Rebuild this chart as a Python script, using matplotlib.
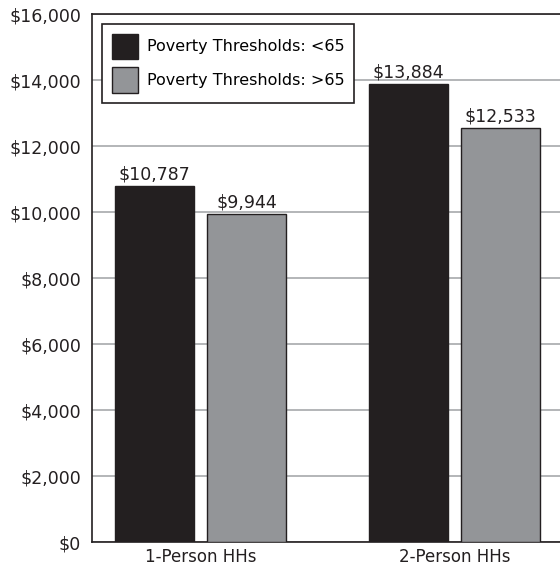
import matplotlib.pyplot as plt
import numpy as np

groups = ['1-Person HHs', '2-Person HHs']
under_65 = [10787, 13884]
over_65 = [9944, 12533]
series_names = ['Poverty Thresholds: <65', 'Poverty Thresholds: >65']
y_ticks = [0, 2000, 4000, 6000, 8000, 10000, 12000, 14000, 16000]

plt.rcParams['font.family'] = ['DejaVu Sans']

fig = plt.figure(figsize=(5.6, 5.7), dpi=100)
ax = fig.add_axes([92 / 560, 28 / 570, 468 / 560, 528 / 570])

x = np.arange(len(groups))
w = 0.311
off = 0.181
b1 = ax.bar(x - off, under_65, w, color='#231f20', edgecolor='#231f20',
            linewidth=1, label=series_names[0], zorder=3)
b2 = ax.bar(x + off, over_65, w, color='#939598', edgecolor='#231f20',
            linewidth=1, label=series_names[1], zorder=3)

fmt = lambda v: '${:,.0f}'.format(v)
ax.bar_label(b1, labels=[fmt(v) for v in under_65], padding=2, fontsize=12.5, color='#231f20')
ax.bar_label(b2, labels=[fmt(v) for v in over_65], padding=2, fontsize=12.5, color='#231f20')

ax.set_xlim(-0.427, 1.415)
ax.set_ylim(0, 16000)
ax.set_yticks(y_ticks)
ax.set_yticklabels([fmt(v) for v in y_ticks], fontsize=12.5, color='#231f20')
ax.set_xticks(x)
ax.set_xticklabels(groups, fontsize=12, color='#231f20')
ax.tick_params(axis='both', length=0)
ax.tick_params(axis='y', pad=8)
ax.tick_params(axis='x', pad=4)
ax.yaxis.grid(True, color='#a7a9ac', linewidth=1.2, zorder=0)
ax.set_axisbelow(True)

ax.spines['right'].set_visible(False)
for s in ['left', 'top', 'bottom']:
    ax.spines[s].set_color('#231f20')
    ax.spines[s].set_linewidth(1.2)

leg = ax.legend(loc='upper left', bbox_to_anchor=(10 / 468, 1 - 10 / 528),
                fontsize=11.5, frameon=True, fancybox=False, framealpha=1,
                handlelength=1.63, handleheight=2.1, handletextpad=0.56,
                borderpad=0.6, labelspacing=0.5, borderaxespad=0)
leg.get_frame().set_edgecolor('#231f20')
leg.get_frame().set_linewidth(1.2)
leg.set_zorder(5)

plt.savefig('out.png', dpi=100)
